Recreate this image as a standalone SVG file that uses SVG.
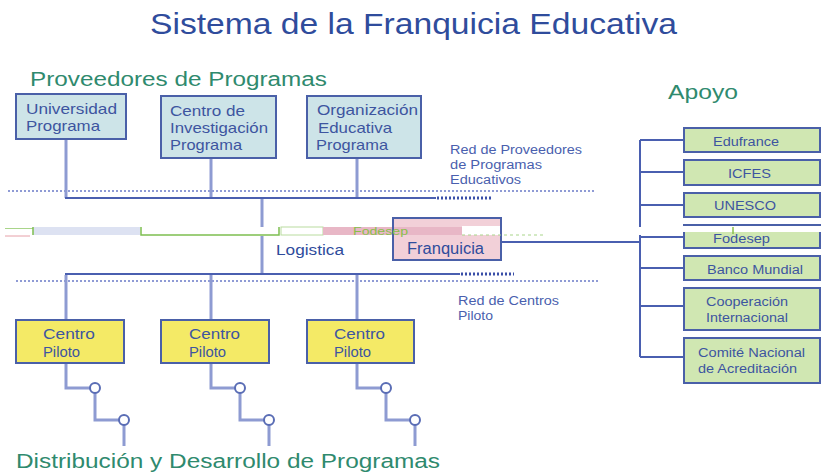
<svg xmlns="http://www.w3.org/2000/svg" width="824" height="474" viewBox="0 0 824 474">
<style>
text{font-family:"Liberation Sans",Arial,sans-serif}
.t{fill:#2f4c9c}
.h{fill:#2f8a6e;font-size:20px}
.bt{fill:#3d55a0;font-size:15px}
.st{fill:#4a5fae;font-size:12px}
.ap{fill:#3d55a0;font-size:12.5px}
.box{stroke:#4a60a8;stroke-width:2}
.blue{fill:#cde4e8}
.yel{fill:#f4ea66}
.grn{fill:#d0e7b2}
.pink{fill:#f2d0d8}
.ln{stroke:#4a5fb0;stroke-width:2;fill:none}
.vl{stroke:#8e9bd2;stroke-width:3;fill:none}
.dot{stroke:#8f9bd5;stroke-width:2;stroke-dasharray:2 2;fill:none}
.dk{stroke:#3a4fa8;stroke-width:3;stroke-dasharray:2 2;fill:none}
</style>
<rect width="824" height="474" fill="#ffffff"/>
<text x="150" y="34" class="t" font-size="30" textLength="527" lengthAdjust="spacingAndGlyphs">Sistema de la Franquicia Educativa</text>
<text x="30" y="86" class="h" textLength="297" lengthAdjust="spacingAndGlyphs">Proveedores de Programas</text>
<text x="668" y="99" class="h" textLength="70" lengthAdjust="spacingAndGlyphs">Apoyo</text>
<text x="16" y="468" class="h" textLength="424" lengthAdjust="spacingAndGlyphs">Distribución y Desarrollo de Programas</text>

<g id="connectors">
  <line x1="8" y1="191" x2="594" y2="191" class="dot"/>
  <line x1="16" y1="281" x2="600" y2="281" class="dot"/>
  <line x1="66" y1="139" x2="66" y2="198" class="vl"/>
  <line x1="211" y1="158" x2="211" y2="198" class="vl"/>
  <line x1="357" y1="158" x2="357" y2="198" class="vl"/>
  <line x1="65" y1="198" x2="436" y2="198" class="ln"/>
  <line x1="437" y1="198" x2="492" y2="198" class="dk"/>
  <line x1="262" y1="199" x2="262" y2="274" class="vl"/>
  <line x1="65" y1="274" x2="460" y2="274" class="ln"/>
  <line x1="461" y1="274" x2="514" y2="274" class="dk"/>
  <line x1="66" y1="275" x2="66" y2="320" class="vl"/>
  <line x1="211" y1="275" x2="211" y2="320" class="vl"/>
  <line x1="357" y1="275" x2="357" y2="320" class="vl"/>
  <line x1="501" y1="242" x2="640" y2="242" class="ln"/>
  <path d="M640 140V357" class="ln"/>
  <path d="M640 140H684M640 172H684M640 205H684M640 237H684M640 268H684M640 306H684M640 357H684" class="ln"/>
  <g id="chains" class="vl" stroke-width="2.5">
    <path d="M66 363V388H90M95 393V420H119M124 425V446"/>
    <path d="M211 363V388H235M240 393V420H264M269 425V446"/>
    <path d="M357 363V388H381M386 393V420H410M415 425V446"/>
  </g>
  <g fill="#ffffff" stroke="#5a6db5" stroke-width="2">
    <circle cx="95" cy="388" r="5"/><circle cx="124" cy="420" r="5"/>
    <circle cx="240" cy="388" r="5"/><circle cx="269" cy="420" r="5"/>
    <circle cx="386" cy="388" r="5"/><circle cx="415" cy="420" r="5"/>
  </g>
</g>

<g id="universidad"><rect x="16" y="94" width="110" height="45" class="box blue"/>
<text x="26" y="114" class="bt" textLength="91" lengthAdjust="spacingAndGlyphs">Universidad</text><text x="26" y="131" class="bt" textLength="74" lengthAdjust="spacingAndGlyphs">Programa</text></g>
<g id="centro-investigacion"><rect x="161" y="96" width="115" height="62" class="box blue"/>
<text x="170" y="116" class="bt" textLength="75" lengthAdjust="spacingAndGlyphs">Centro de</text><text x="170" y="133" class="bt" textLength="98" lengthAdjust="spacingAndGlyphs">Investigación</text><text x="170" y="150" class="bt" textLength="72" lengthAdjust="spacingAndGlyphs">Programa</text></g>
<g id="organizacion"><rect x="307" y="96" width="114" height="62" class="box blue"/>
<text x="317" y="115" class="bt" textLength="101" lengthAdjust="spacingAndGlyphs">Organización</text><text x="318" y="133" class="bt" textLength="74" lengthAdjust="spacingAndGlyphs">Educativa</text><text x="316" y="150" class="bt" textLength="72" lengthAdjust="spacingAndGlyphs">Programa</text></g>

<g id="red-proveedores"><text x="450" y="154" class="st" textLength="132" lengthAdjust="spacingAndGlyphs">Red de Proveedores</text><text x="450" y="169" class="st" textLength="92" lengthAdjust="spacingAndGlyphs">de Programas</text><text x="450" y="184" class="st" textLength="71" lengthAdjust="spacingAndGlyphs">Educativos</text></g>
<g id="red-centros"><text x="458" y="305" class="st" textLength="101" lengthAdjust="spacingAndGlyphs">Red de Centros</text><text x="458" y="320" class="st" textLength="35" lengthAdjust="spacingAndGlyphs">Piloto</text></g>

<g id="logistica"><text x="276" y="255" class="t" font-size="15.5" textLength="68" lengthAdjust="spacingAndGlyphs">Logistica</text></g>

<g id="glitch">
  <rect x="5" y="227" width="388" height="9" fill="#ffffff"/>
  <line x1="5" y1="228.5" x2="33" y2="228.5" stroke="#a9d58a" stroke-width="1"/>
  <line x1="5" y1="236" x2="30" y2="236" stroke="#e6a0a8" stroke-width="1"/>
  <rect x="33" y="227" width="107" height="8" fill="#dde2f2"/>
  <path d="M33 227V235M141 227V235H279V227" stroke="#7ebf50" stroke-width="1.5" fill="none"/>
  <rect x="281" y="227" width="42" height="8" fill="none" stroke="#b9dc9f" stroke-width="1"/>
  <rect x="323" y="227" width="70" height="8" fill="#e8b7c6"/>
</g>

<g id="franquicia"><rect x="393" y="218" width="108" height="42" class="box pink"/>
<rect x="394" y="227" width="68" height="8" fill="#e8b7c6"/>
<rect x="462" y="226" width="38" height="9" fill="#ffffff"/>
<line x1="462" y1="235" x2="543" y2="235" stroke="#a9d58a" stroke-width="1" stroke-dasharray="3 3"/>
<text x="407" y="254" class="t" font-size="16" textLength="77" lengthAdjust="spacingAndGlyphs">Franquicia</text></g>
<text x="353" y="235" font-size="11" fill="#8abf4a" textLength="55" lengthAdjust="spacingAndGlyphs">Fodesep</text>
<rect x="639" y="227" width="4" height="8" fill="#ffffff"/>

<g id="edufrance"><rect x="684" y="128" width="136" height="24" class="box grn"/><text x="713" y="146" class="ap" textLength="66" lengthAdjust="spacingAndGlyphs">Edufrance</text></g>
<g id="icfes"><rect x="684" y="160" width="136" height="25" class="box grn"/><text x="728" y="178" class="ap" textLength="43" lengthAdjust="spacingAndGlyphs">ICFES</text></g>
<g id="unesco"><rect x="684" y="193" width="136" height="24" class="box grn"/><text x="714" y="210" class="ap" textLength="62" lengthAdjust="spacingAndGlyphs">UNESCO</text></g>
<g id="fodesep"><rect x="684" y="225" width="136" height="23" class="box grn"/>
<text x="713" y="243" class="ap" textLength="57" lengthAdjust="spacingAndGlyphs">Fodesep</text>
<rect x="683" y="226" width="141" height="6" fill="#ffffff"/>
<line x1="733" y1="227" x2="733" y2="234" stroke="#8abf4a" stroke-width="1.5"/></g>
<g id="banco-mundial"><rect x="684" y="256" width="136" height="24" class="box grn"/><text x="707" y="274" class="ap" textLength="96" lengthAdjust="spacingAndGlyphs">Banco Mundial</text></g>
<g id="cooperacion"><rect x="684" y="288" width="136" height="42" class="box grn"/><text x="706" y="306" class="ap" textLength="82" lengthAdjust="spacingAndGlyphs">Cooperación</text><text x="706" y="322" class="ap" textLength="82" lengthAdjust="spacingAndGlyphs">Internacional</text></g>
<g id="comite"><rect x="684" y="338" width="136" height="45" class="box grn"/><text x="698" y="357" class="ap" textLength="107" lengthAdjust="spacingAndGlyphs">Comité Nacional</text><text x="698" y="373" class="ap" textLength="99" lengthAdjust="spacingAndGlyphs">de Acreditación</text></g>

<g id="piloto1"><rect x="16" y="320" width="108" height="43" class="box yel"/><text x="43" y="339" class="bt" textLength="52" lengthAdjust="spacingAndGlyphs">Centro</text><text x="43" y="357" class="bt" textLength="37" lengthAdjust="spacingAndGlyphs">Piloto</text></g>
<g id="piloto2"><rect x="161" y="320" width="108" height="43" class="box yel"/><text x="189" y="339" class="bt" textLength="51" lengthAdjust="spacingAndGlyphs">Centro</text><text x="189" y="357" class="bt" textLength="37" lengthAdjust="spacingAndGlyphs">Piloto</text></g>
<g id="piloto3"><rect x="307" y="320" width="107" height="43" class="box yel"/><text x="334" y="339" class="bt" textLength="51" lengthAdjust="spacingAndGlyphs">Centro</text><text x="334" y="357" class="bt" textLength="37" lengthAdjust="spacingAndGlyphs">Piloto</text></g>
</svg>
